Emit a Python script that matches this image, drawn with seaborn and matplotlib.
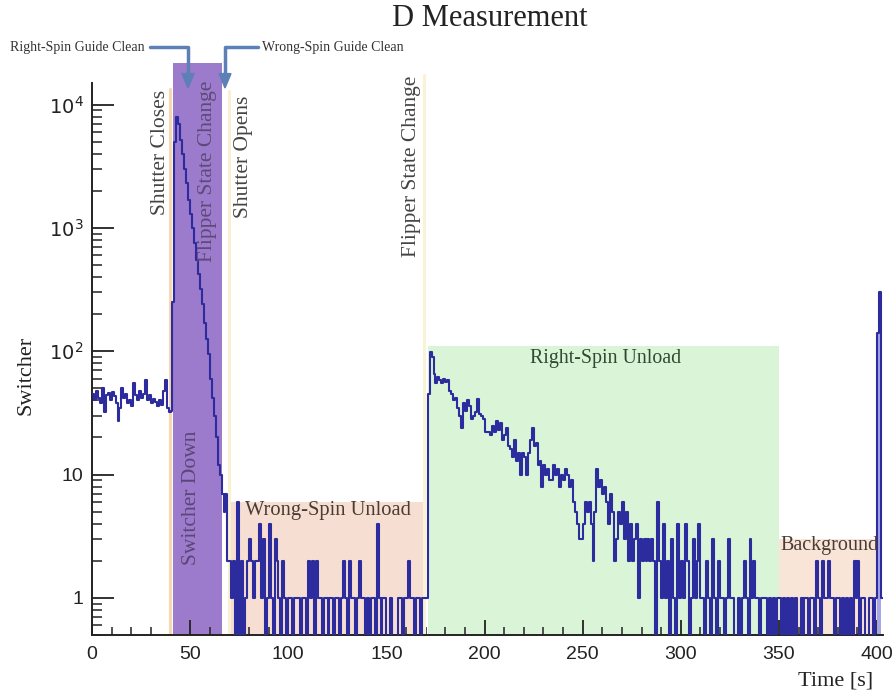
import numpy as np
import pandas as pd
import matplotlib
matplotlib.use("Agg")
import matplotlib.pyplot as plt
from matplotlib.patches import Rectangle
from matplotlib.lines import Line2D
import matplotlib.ticker as mticker
import seaborn as sns

# ---------------- data (counts per 1 s bin) ----------------
bin_start = 0
counts_pre = [45, 40, 48, 42, 38, 50, 32, 44, 46, 40, 47, 43, 38, 27, 35, 50, 42, 45, 38, 40,
              36, 55, 44, 40, 48, 42, 45, 58, 40, 44, 38, 41, 39, 36, 40, 37, 48, 58, 35, 32]          # 0-39
counts_switch = [33, 250, 5000, 8000, 7000, 5200, 4000, 3000, 2300, 1700, 1300, 1000, 750, 550,
                 420, 320, 240, 170, 125, 95, 60, 42, 30, 20, 12, 10, 7, 5, 7, 2]                       # 40-69
counts_wrong = [2, 1, 2, 0, 6, 0, 2, 0, 1, 2, 3, 2, 1, 2, 2, 4, 1, 3, 0, 1,
                4, 1, 0, 3, 2, 1, 0, 2, 1, 0, 1, 1, 0, 1, 1, 1, 0, 1, 1, 0,
                2, 1, 2, 0, 2, 1, 1, 0, 1, 1, 0, 1, 1, 0, 1, 1, 0, 1, 2, 1,
                0, 2, 1, 1, 0, 1, 2, 1, 1, 0, 1, 0, 1, 1, 0, 4, 1, 0, 1, 1,
                0, 0, 1, 0, 0, 0, 1, 1, 0, 1, 1, 2, 1, 1, 0, 1, 1, 0, 1, 1, 1]                          # 70-170
counts_right = [45, 98, 90, 65, 55, 62, 58, 55, 60, 56, 58, 48, 45, 40, 42, 35, 30, 24, 38, 33,
                40, 36, 28, 30, 32, 41, 31, 30, 28, 22, 22, 22, 21, 25, 22, 27, 23, 26, 19, 21,
                24, 17, 16, 14, 19, 13, 15, 10, 15, 14, 10, 15, 19, 24, 17, 18, 12, 13, 8, 12,
                10, 11, 9, 9, 12, 10, 11, 8, 10, 9, 11, 10, 8, 9, 6, 5, 4, 3, 3, 4,
                6, 5, 6, 4, 2, 5, 11, 8, 9, 7, 8, 6, 4, 7, 5, 2, 3, 5, 4, 6,
                3, 5, 2, 4, 2, 3, 4, 1, 3, 2, 3, 2, 3, 2, 3, 2, 0, 6, 2, 1,
                4, 1, 2, 0, 3, 1, 0, 4, 1, 2, 1, 4, 2, 0, 1, 3, 1, 2, 4, 1,
                1, 0, 2, 1, 0, 3, 1, 0, 2, 1, 1, 0, 1, 3, 1, 1, 0, 0, 1, 0,
                1, 2, 1, 0, 3, 1, 2, 1, 1, 0, 1, 1, 1, 0, 1, 0, 1, 0, 1, 1]                             # 171-350
counts_bkg = [0, 1, 0, 1, 0, 1, 0, 1, 0, 0, 1, 0, 1, 1, 0, 1, 1, 0, 2, 1,
              0, 2, 1, 1, 2, 1, 1, 0, 1, 1, 0, 1, 0, 1, 0, 1, 0, 2, 1, 2,
              0, 1, 1, 0, 0, 1, 1, 0, 1, 140, 300, 1]                                                  # 351-402
spike_fill = [140, 140, 140]                                                                            # 400-402 light fill

# region definitions (start, end, height)
region_wrong = (70, 170, 6)
region_right = (171, 350, 110)
region_bkg = (350, 402, 3)
region_switcher = (41.3, 66.2)
line_shutter_close = 39.8
line_shutter_open = 69.8
line_flipper = 169.4

x_ticks = [0, 50, 100, 150, 200, 250, 300, 350, 400]
y_ticks = [1, 10, 100, 1000, 10000]
y_ticklabels = ["1", "10", r"$10^{2}$", r"$10^{3}$", r"$10^{4}$"]

counts = counts_pre + counts_switch + counts_wrong + counts_right + counts_bkg
edges = np.arange(bin_start, bin_start + len(counts) + 1)
# zero bins drop to the bottom of the log axis (ROOT style)
yvals = np.array(counts + [counts[-1]], dtype=float)
yplot = np.where(yvals > 0, yvals, 0.2)
df = pd.DataFrame({"t": edges, "n": yplot})

# ---------------- figure ----------------
sns.set_style("ticks")
plt.rcParams["font.family"] = ["Liberation Sans", "DejaVu Sans"]
W, H = 892, 693
fig = plt.figure(figsize=(W / 100, H / 100), dpi=100)
ax = fig.add_axes([92 / W, 1 - 635 / H, 791 / W, 552 / H])
ax.set_yscale("log")
ax.set_xlim(0, 403)
ax.set_ylim(0.5, 1.5e4)

serif = ["Liberation Serif", "DejaVu Serif"]

# shaded regions
ax.add_patch(Rectangle((region_wrong[0], 0.5), region_wrong[1] - region_wrong[0], region_wrong[2] - 0.5,
                       facecolor="#f6dfd2", edgecolor="none", zorder=0))
ax.add_patch(Rectangle((region_right[0], 0.5), region_right[1] - region_right[0], region_right[2] - 0.5,
                       facecolor="#d9f4d7", edgecolor="none", zorder=0))
ax.add_patch(Rectangle((region_bkg[0], 0.5), region_bkg[1] - region_bkg[0], region_bkg[2] - 0.5,
                       facecolor="#f8e5d8", edgecolor="none", zorder=0))
ax.axvspan(region_switcher[0], region_switcher[1], ymin=0, ymax=(635 - 63) / 552,
           facecolor="#9c7acc", edgecolor="none", zorder=0.5, clip_on=False)
ax.axvline(line_shutter_close, ymin=0, ymax=0.99, color="#f5d7b0", lw=2.2, zorder=0.6)
ax.axvline(line_shutter_open, ymin=0, ymax=0.985, color="#f7f0d2", lw=2.2, zorder=0.6)
ax.axvline(line_flipper, ymin=0, ymax=1.015, color="#f9f2d6", lw=2.2, zorder=0.6, clip_on=False)

# light fill under the final spike
spike_edges = edges[len(counts) - 3:len(counts)]
ax.fill_between(spike_edges, 0.5, spike_fill, step="post", color="#a5a5ea", edgecolor="none", zorder=2)

# histogram
sns.lineplot(data=df, x="t", y="n", ax=ax, drawstyle="steps-post", color="#2c2c9e",
             linewidth=1.5, estimator=None, zorder=3)

# axes styling
for s in ["top", "right"]:
    ax.spines[s].set_visible(False)
for s in ["left", "bottom"]:
    ax.spines[s].set_linewidth(1.4)
    ax.spines[s].set_color("#222222")
ax.set_xticks(x_ticks)
ax.xaxis.set_minor_locator(mticker.MultipleLocator(10))
ax.set_yticks(y_ticks)
ax.set_yticklabels(y_ticklabels)
ax.yaxis.set_minor_locator(mticker.LogLocator(base=10, subs=np.arange(2, 10), numticks=20))
ax.yaxis.set_minor_formatter(mticker.NullFormatter())
ax.tick_params(axis="both", which="major", direction="in", labelsize=14, colors="#222222", width=1.3)
ax.tick_params(axis="y", which="major", length=16, pad=6)
ax.tick_params(axis="x", which="major", length=11, pad=8)
ax.tick_params(axis="y", which="minor", direction="in", length=7, width=1.1, colors="#222222")
ax.tick_params(axis="x", which="minor", direction="in", length=5.5, width=1.1, colors="#222222")

ax.set_ylabel("Switcher", family=serif, fontsize=16, color="#222222")
ax.yaxis.set_label_coords(-0.072, 0.47)
ax.set_xlabel("Time [s]", family=serif, fontsize=16, color="#222222")
ax.xaxis.set_label_coords(0.94, -0.066)

fig.text(490 / W, 1 - 19 / H, "D Measurement", family=serif, fontsize=22, color="#222222",
         ha="center", va="center")

# vertical labels
xt = ax.get_xaxis_transform()
vfs = 15.5
ax.text(35.0, 0.987, "Shutter Closes", transform=xt, rotation=90, ha="center", va="top",
        family=serif, fontsize=vfs, color="#444444")
ax.text(58.6, 1.005, "Flipper State Change", transform=xt, rotation=90, ha="center", va="top",
        family=serif, fontsize=vfs, color="#5e4a78", clip_on=False)
ax.text(77.2, 0.978, "Shutter Opens", transform=xt, rotation=90, ha="center", va="top",
        family=serif, fontsize=vfs, color="#444444")
ax.text(162.6, 1.014, "Flipper State Change", transform=xt, rotation=90, ha="center", va="top",
        family=serif, fontsize=vfs, color="#444444", clip_on=False)
ax.text(50.8, 0.371, "Switcher Down", transform=xt, rotation=90, ha="center", va="top",
        family=serif, fontsize=vfs, color="#5b4676")
ax.text(78, 5.1, "Wrong-Spin Unload", ha="left", va="center", family=serif, fontsize=14.8,
        color="#4a3b33")
ax.text(261.4, 88, "Right-Spin Unload", ha="center", va="center", family=serif, fontsize=14.3,
        color="#2f4a30")
ax.text(375.5, 2.65, "Background", ha="center", va="center", family=serif, fontsize=14.5,
        color="#4a3b33")

# guide clean annotations (figure pixels)
def fx(px):
    return px / W

def fy(py):
    return 1 - py / H

arrow_col = "#5d80b6"
fig.text(fx(10), fy(48), "Right-Spin Guide Clean", family=serif, fontsize=10, color="#333333",
         ha="left", va="center")
fig.text(fx(262), fy(48), "Wrong-Spin Guide Clean", family=serif, fontsize=10, color="#333333",
         ha="left", va="center")
fig.add_artist(Line2D([fx(150), fx(188), fx(188)], [fy(47), fy(47), fy(75)],
                      color=arrow_col, lw=2.5, transform=fig.transFigure))
fig.add_artist(Line2D([fx(258), fx(225), fx(225)], [fy(47), fy(47), fy(75)],
                      color=arrow_col, lw=2.5, transform=fig.transFigure))
for xa in (188, 225):
    fig.patches.append(matplotlib.patches.FancyArrow(
        fx(xa), fy(72), 0, fy(88) - fy(72), width=0.001, head_width=fx(12), head_length=(fy(72) - fy(88)) * 0.9,
        length_includes_head=True, color=arrow_col, transform=fig.transFigure))

fig.savefig("out.png", dpi=100)
